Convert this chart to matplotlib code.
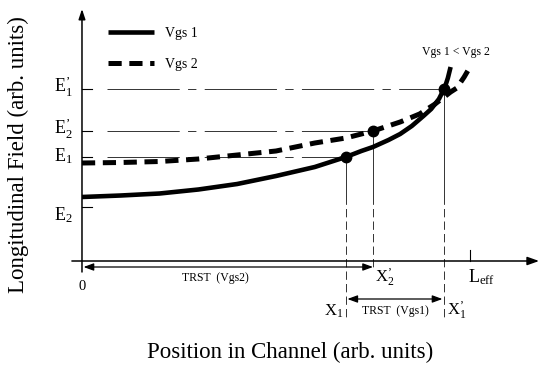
import matplotlib
matplotlib.use("Agg")
import matplotlib.pyplot as plt

plt.rcParams['font.family'] = ['Liberation Serif', 'DejaVu Serif']
plt.rcParams['mathtext.fontset'] = 'custom'
plt.rcParams['mathtext.rm'] = 'Liberation Serif'
plt.rcParams['mathtext.it'] = 'Liberation Serif:italic'
plt.rcParams['lines.scale_dashes'] = False

PR = "\u2019"

# field levels (arb. units)
E1p, E2p, E1, E2 = 1.72, 1.30, 1.04, 0.54
level_values = [E1p, E2p, E1, E2]
level_labels = [r"$\mathrm{E}^{\mathrm{" + PR + r"}}_{1}$", r"$\mathrm{E}^{\mathrm{" + PR + r"}}_{2}$",
                r"$\mathrm{E}_{1}$", r"$\mathrm{E}_{2}$"]

# positions along the channel (arb. units)
X1, X2p, X1p, L_eff = 0.680, 0.750, 0.933, 1.0

# longitudinal field profiles
vgs1_x = [0.0, 0.10, 0.20, 0.30, 0.40, 0.50, 0.55, 0.60, 0.64, 0.68, 0.72, 0.75, 0.79,
          0.82, 0.85, 0.88, 0.90, 0.92, 0.933, 0.938, 0.943, 0.95]
vgs1_y = [0.64, 0.655, 0.675, 0.715, 0.77, 0.85, 0.895, 0.94, 0.99, 1.04, 1.10, 1.14, 1.21,
          1.27, 1.35, 1.45, 1.52, 1.62, 1.72, 1.77, 1.83, 1.94]
vgs2_x = [0.0, 0.10, 0.20, 0.30, 0.40, 0.50, 0.55, 0.60, 0.64, 0.68, 0.715, 0.75, 0.785,
          0.82, 0.845, 0.87, 0.89, 0.91, 0.93, 0.95, 0.966, 0.985, 1.0]
vgs2_y = [0.98, 0.985, 0.995, 1.02, 1.06, 1.10, 1.14, 1.18, 1.205, 1.23, 1.265, 1.30, 1.345,
          1.39, 1.43, 1.47, 1.52, 1.57, 1.63, 1.69, 1.73, 1.84, 1.94]

# crossing points
dot_x = [X1, X2p, X1p]
dot_y = [E1, E2p, E1p]

fig = plt.figure(figsize=(5.41, 3.69), dpi=100)
ax = fig.add_axes([0, 0, 1, 1])
ax.set_xlim(-0.2113, 1.183)
ax.set_ylim(-1.08, 2.61)
ax.axis('off')

ink = 'black'
thin = '#333333'

# axes with arrows
ax.annotate("", xy=(0, 2.52), xytext=(0, -0.11),
            arrowprops=dict(arrowstyle='-|>,head_length=0.6,head_width=0.2', lw=1.1, color=ink,
                            shrinkA=0, shrinkB=0, mutation_scale=10))
ax.annotate("", xy=(1.178, 0), xytext=(-0.026, 0),
            arrowprops=dict(arrowstyle='-|>,head_length=0.7,head_width=0.25', lw=1.1, color=ink,
                            shrinkA=0, shrinkB=0, mutation_scale=10))

# y ticks and guide lines
for v in level_values:
    ax.plot([0, 0.026], [v, v], color=ink, lw=0.8)
for v, xe in zip([E1p, E2p, E1], [X1p, X2p, X1]):
    ax.plot([0.064, xe], [v, v], color=thin, lw=0.7, dashes=(52, 6, 6, 6))
for v, lab in zip(level_values, level_labels):
    ax.text(-0.023, v - 0.04 if v != E2 else v - 0.13, lab, ha='right', va='baseline', fontsize=13)

# vertical guides
for xv, ytop, ybot in zip([X1, X2p, X1p], [E1, E2p, E1p], [-0.56, -0.10, -0.56]):
    ax.plot([xv, xv], [ytop, 0.65], color=thin, lw=0.7)
    ax.plot([xv, xv], [0.65, ybot], color=thin, lw=0.7, dashes=(6, 3))

# L_eff tick
ax.plot([L_eff, L_eff], [0, 0.11], color=ink, lw=0.8)

# curves
ax.plot(vgs1_x, vgs1_y, color=ink, lw=3.3, solid_capstyle='butt', solid_joinstyle='round', label="Vgs 1")
ax.plot(vgs2_x, vgs2_y, color=ink, lw=3.6, dashes=(9.5, 5.5), dash_capstyle='butt', label="Vgs 2")
ax.plot(dot_x, dot_y, 'o', color=ink, ms=7.5, zorder=5)

ax.legend(loc='upper left', bbox_to_anchor=(108 / 541, 1 - 27 / 369), frameon=False,
          borderpad=0, borderaxespad=0, handlelength=3.3, handletextpad=0.8,
          labelspacing=1.3, fontsize=10)

# TRST arrows
ax.annotate("", xy=(X2p, -0.06), xytext=(0.004, -0.06),
            arrowprops=dict(arrowstyle='<|-|>,head_length=0.6,head_width=0.22', lw=0.9, color=ink,
                            shrinkA=0, shrinkB=0, mutation_scale=10))
ax.annotate("", xy=(X1p - 0.004, -0.38), xytext=(X1 + 0.004, -0.38),
            arrowprops=dict(arrowstyle='<|-|>,head_length=0.6,head_width=0.22', lw=0.9, color=ink,
                            shrinkA=0, shrinkB=0, mutation_scale=10))
ax.text(0.343, -0.17, "TRST  (Vgs2)", ha='center', va='center', fontsize=8.5)
ax.text((X1 + X1p) / 2, -0.50, "TRST  (Vgs1)", ha='center', va='center', fontsize=8.5)

# position labels
ax.text(0, -0.25, "0", ha='center', va='center', fontsize=10.5)
ax.text(X2p + 0.006, -0.22, r"$\mathrm{X}^{\mathrm{" + PR + r"}}_{2}$", ha='left', va='baseline', fontsize=12)
ax.text(L_eff - 0.005, -0.21, r"$\mathrm{L}_{\mathrm{eff}}$", ha='left', va='baseline', fontsize=13)
ax.text(X1 - 0.006, -0.55, r"$\mathrm{X}_{1}$", ha='right', va='baseline', fontsize=12)
ax.text(X1p + 0.008, -0.55, r"$\mathrm{X}^{\mathrm{" + PR + r"}}_{1}$", ha='left', va='baseline', fontsize=12)
ax.text(0.964, 2.09, "Vgs 1 < Vgs 2", ha='center', va='center', fontsize=8.5)

fig.text(290 / 541, 1 - 352 / 369, "Position in Channel (arb. units)", ha='center', va='center', fontsize=16.5)
fig.text(18 / 541, 1 - 155 / 369, "Longitudinal Field (arb. units)", ha='center', va='center',
         rotation=90, fontsize=16.5)

fig.savefig("out.png", dpi=100)
